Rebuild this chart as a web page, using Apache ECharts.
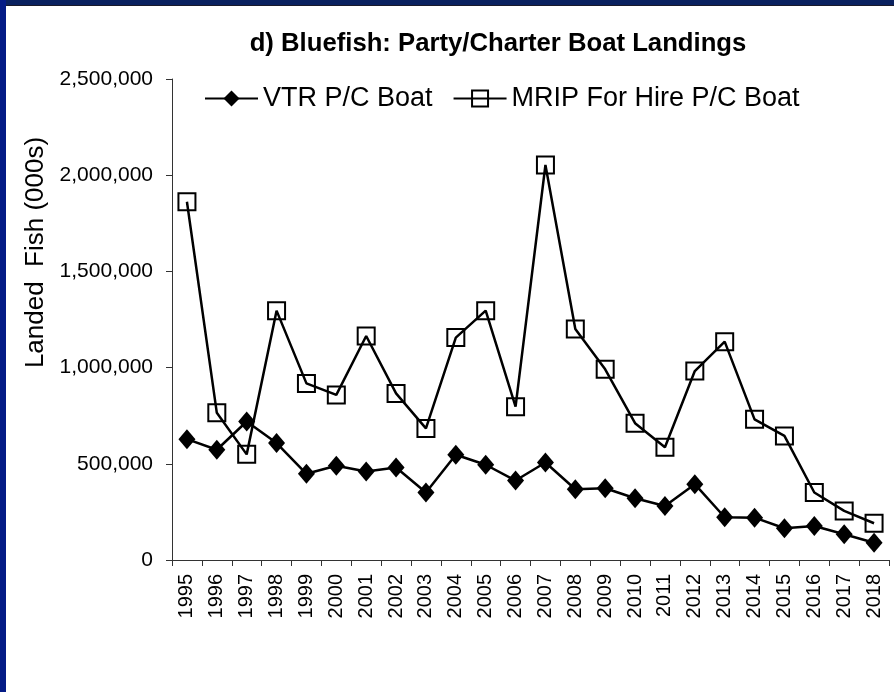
<!DOCTYPE html>
<html>
<head>
<meta charset="utf-8">
<script src="https://cdn.jsdelivr.net/npm/echarts@6/dist/echarts.min.js"></script>
<style>
html,body{margin:0;padding:0;background:#fff;}
#chart{width:894px;height:692px;}
</style>
</head>
<body>
<div id="chart"></div>
<script>
var years = ['1995','1996','1997','1998','1999','2000','2001','2002','2003','2004','2005','2006','2007','2008','2009','2010','2011','2012','2013','2014','2015','2016','2017','2018'];
var vtrPC = [628000, 573000, 720000, 608000, 448000, 490000, 460000, 481000, 351000, 547000, 495000, 413000, 507000, 368000, 373000, 321000, 281000, 394000, 222000, 220000, 165000, 177000, 134000, 90000];
var mripPC = [1862000, 765000, 549000, 1296000, 918000, 858000, 1164000, 866000, 684000, 1156000, 1296000, 797000, 2053000, 1201000, 991000, 711000, 586000, 982000, 1135000, 731000, 645000, 351000, 255000, 191000];
var seriesNames = ['VTR P/C Boat', 'MRIP For Hire P/C Boat'];
var titleText = 'd) Bluefish: Party/Charter Boat Landings';
var yAxisName = 'Landed  Fish (000s)';

var FONT = '"Liberation Sans", Arial, sans-serif';
var chart = echarts.init(document.getElementById('chart'), null, {renderer: 'canvas'});
chart.setOption({
  animation: false,
  backgroundColor: '#ffffff',
  graphic: [
    {type: 'rect', left: 0, top: 0, shape: {width: 894, height: 5}, style: {fill: '#0a215f'}, z: 100},
    {type: 'rect', left: 0, top: 5, shape: {width: 894, height: 1}, style: {fill: '#1a1a2a'}, z: 100},
    {type: 'rect', left: 0, top: 0, shape: {width: 6, height: 692}, style: {fill: '#041b86'}, z: 100}
  ],
  title: {
    text: titleText,
    left: 493,
    top: 26,
    textAlign: 'center',
    textStyle: {fontFamily: FONT, fontWeight: 'bold', fontSize: 25.7, color: '#000'}
  },
  legend: {
    left: 204,
    top: 85,
    padding: 0,
    itemWidth: 53,
    itemHeight: 20,
    itemGap: 20,
    itemTextGap: -4,
    textStyle: {fontFamily: FONT, fontSize: 27, color: '#000'},
    data: seriesNames
  },
  grid: {left: 172, top: 79, right: 5, bottom: 132, containLabel: false},
  xAxis: {
    type: 'category',
    data: years,
    boundaryGap: true,
    axisLine: {lineStyle: {color: '#333', width: 1}},
    axisTick: {show: true, interval: 0, length: 6, lineStyle: {color: '#333'}},
    axisLabel: {interval: 0, rotate: 90, margin: 14, fontFamily: FONT, fontSize: 20, color: '#000'},
    splitLine: {show: false}
  },
  yAxis: {
    type: 'value',
    min: 0,
    max: 2500000,
    interval: 500000,
    name: yAxisName,
    nameLocation: 'middle',
    nameRotate: 90,
    nameGap: 111,
    nameTextStyle: {fontFamily: FONT, fontSize: 26, color: '#000', padding: [0, 0, 0, 134]},
    axisLine: {show: true, lineStyle: {color: '#333', width: 1}},
    axisTick: {show: true, length: 6, lineStyle: {color: '#333'}},
    axisLabel: {
      margin: 19,
      fontFamily: FONT, fontSize: 21, color: '#000',
      formatter: function (v) { return v.toLocaleString('en-US'); }
    },
    splitLine: {show: false}
  },
  series: [
    {
      name: seriesNames[0],
      type: 'line',
      data: vtrPC,
      symbol: 'diamond',
      symbolSize: [17, 20],
      lineStyle: {color: '#000', width: 2.5},
      itemStyle: {color: '#000', borderColor: '#000', borderWidth: 0}
    },
    {
      name: seriesNames[1],
      type: 'line',
      data: mripPC,
      symbol: 'rect',
      symbolSize: 17,
      lineStyle: {color: '#000', width: 2.5},
      itemStyle: {color: 'rgba(255,255,255,0)', borderColor: '#000', borderWidth: 2}
    }
  ]
});
</script>
</body>
</html>
